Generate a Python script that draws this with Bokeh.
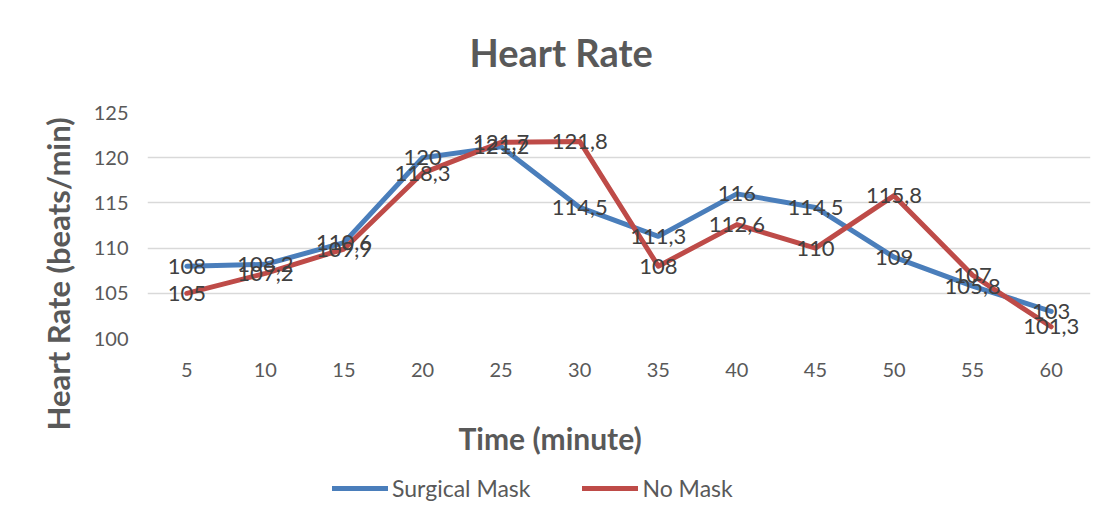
from bokeh.plotting import figure
from bokeh.layouts import column
from bokeh.models import (FactorRange, Range1d, FixedTicker, Legend, LegendItem,
                          ColumnDataSource, Title)
from bokeh.core.properties import value
from bokeh.embed import file_html
from bokeh.resources import INLINE

times = ["5", "10", "15", "20", "25", "30", "35", "40", "45", "50", "55", "60"]
surgical_mask = [108, 108.2, 110.6, 120, 121.2, 114.5, 111.3, 116, 114.5, 109, 105.8, 103]
no_mask = [105, 107.2, 109.9, 118.3, 121.7, 121.8, 108, 112.6, 110, 115.8, 107, 101.3]
y_ticks = [100, 105, 110, 115, 120, 125]

FONT = "Lato"
GRAY = "#595959"
BLUE = "#4A7EBB"
RED = "#BE4B48"

def fmt(v):
    return f"{v:g}".replace(".", ",")

p = figure(width=1095, height=470, x_range=FactorRange(*times), y_range=Range1d(100, 125),
           output_backend="svg", toolbar_location=None, title=None,
           min_border_left=147, min_border_right=5, min_border_top=112, min_border_bottom=132)
p.outline_line_color = None

top_spacer = Title(text=" ", text_font_size="1px", standoff=33)
p.add_layout(top_spacer, "above")
main_title = Title(text="Heart Rate", align="left", offset=322, standoff=0, vertical_align="top",
                   text_font=FONT, text_font_size="38px", text_font_style="bold", text_color=GRAY)
p.add_layout(main_title, "above")

p.xgrid.grid_line_color = None
p.ygrid.grid_line_color = "#D9D9D9"
p.ygrid.grid_line_width = 1.5
p.yaxis.ticker = FixedTicker(ticks=y_ticks)

for ax in (p.xaxis[0], p.yaxis[0]):
    ax.axis_line_color = None
    ax.major_tick_line_color = None
    ax.minor_tick_line_color = None
    ax.major_label_text_font = FONT
    ax.major_label_text_font_size = "20px"
    ax.major_label_text_color = GRAY

p.xaxis.major_label_standoff = 18
p.yaxis.major_label_standoff = 13

spacer = Title(text=" ", text_font_size="1px", standoff=36)
p.add_layout(spacer, "below")
x_title = Title(text="Time (minute)", align="left", offset=311, standoff=2, vertical_align="top",
                text_font=FONT, text_font_size="30px", text_font_style="bold", text_color=GRAY)
p.add_layout(x_title, "below")
y_title = Title(text="Heart Rate (beats/min)", align="left", offset=-92, standoff=28,
                text_font=FONT, text_font_size="31px", text_font_style="bold", text_color=GRAY)
p.add_layout(y_title, "left")

src = ColumnDataSource(dict(t=times, s=surgical_mask, n=no_mask,
                            sl=[fmt(v) for v in surgical_mask], nl=[fmt(v) for v in no_mask]))

p.line("t", "s", source=src, line_color=BLUE, line_width=5, line_join="round", line_cap="round")
p.line("t", "n", source=src, line_color=RED, line_width=5, line_join="round", line_cap="round")

for ycol, tcol in (("s", "sl"), ("n", "nl")):
    p.text(x="t", y=ycol, text=tcol, source=src, text_align="center",
           text_baseline="middle", text_font=value(FONT), text_font_size="22px", text_color="#404040")

# legend strip below the chart
lg = figure(width=1095, height=41, x_range=FactorRange(*times), y_range=Range1d(0, 1),
            output_backend="svg", toolbar_location=None, x_axis_type=None, y_axis_type=None,
            min_border=0)
lg.outline_line_color = None
lg.grid.grid_line_color = None
l1 = lg.line("t", "s", source=src, line_color=BLUE, line_width=5, line_cap="round")
l2 = lg.line("t", "n", source=src, line_color=RED, line_width=5, line_cap="round")

legend = Legend(items=[LegendItem(label="Surgical Mask", renderers=[l1]),
                       LegendItem(label="No Mask", renderers=[l2])],
                orientation="horizontal", location=(185, 9))
legend.label_text_font = FONT
legend.label_text_font_size = "23px"
legend.label_text_color = GRAY
legend.glyph_width = 56
legend.glyph_height = 26
legend.spacing = 52
legend.label_standoff = 4
legend.border_line_color = None
legend.background_fill_alpha = 0
legend.margin = 0
legend.padding = 0
lg.add_layout(legend)

layout = column(p, lg, spacing=0)
open("out.html", "w").write(file_html(layout, INLINE))
